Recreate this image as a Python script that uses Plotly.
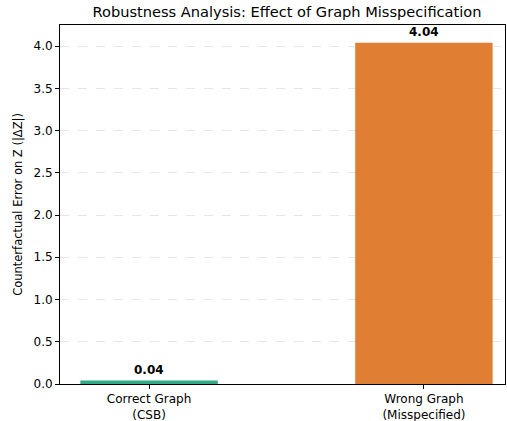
import plotly.graph_objects as go

categories = ["Correct Graph<br>(CSB)", "Wrong Graph<br>(Misspecified)"]
values = [0.04, 4.04]
labels = ["0.04", "4.04"]
colors = ["#2eaa84", "#e07f34"]
yticks = [0.0, 0.5, 1.0, 1.5, 2.0, 2.5, 3.0, 3.5, 4.0]

FONT = "DejaVu Sans"
W, H = 507, 421
fig = go.Figure()
fig.add_trace(go.Bar(x=[0, 1], y=values, marker=dict(color=colors, line=dict(width=0)),
                     width=0.5, showlegend=False))
for i, (v, t) in enumerate(zip(values, labels)):
    fig.add_annotation(x=i, y=v, text="<b>" + t + "</b>", showarrow=False,
                       yanchor="bottom", yshift=2, font=dict(family=FONT, size=12, color="black"))

fig.update_layout(
    width=W, height=H,
    margin=dict(l=60, r=2, t=25, b=37),
    paper_bgcolor="white", plot_bgcolor="white",
    font=dict(family=FONT, size=12, color="black"),
    title=dict(text="Robustness Analysis: Effect of Graph Misspecification",
               x=287 / W, xanchor="center", y=1 - 12 / H, yanchor="middle",
               font=dict(family=FONT, size=14.6, color="black")),
)
fig.update_xaxes(range=[-0.324, 1.295], tickvals=[0, 1], ticktext=categories,
                 ticks="outside", ticklen=4, tickcolor="black", automargin=False,
                 showline=True, linecolor="black", linewidth=1, mirror=True,
                 showgrid=False, zeroline=False, tickfont=dict(size=12))
fig.update_yaxes(range=[0, 4.25], tickvals=yticks, ticktext=[f"{v:.1f}" for v in yticks],
                 ticks="outside", ticklen=4, tickcolor="black", automargin=False,
                 showline=True, linecolor="black", linewidth=1, mirror=True,
                 showgrid=True, gridcolor="#e6e6e6", griddash="dash", gridwidth=1,
                 zeroline=False, tickfont=dict(size=12),
                 title=dict(text="Counterfactual Error on Z (|ΔZ|)", font=dict(size=11.5), standoff=8))
fig.write_html("out.html", config={"displayModeBar": False},
               post_script="document.body.style.margin='0';")
